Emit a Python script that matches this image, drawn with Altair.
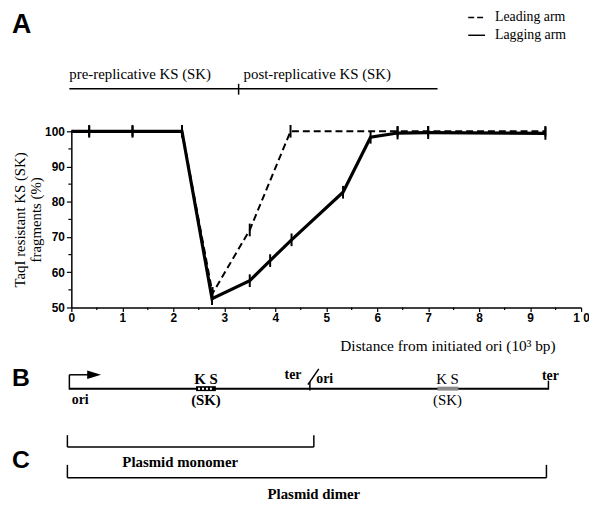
import altair as alt
import pandas as pd

# ---- data ----
lag_x = [0, 0.35, 1.2, 2.17, 2.76, 3.5, 3.9, 4.32, 5.33, 5.87, 6.4, 7.0, 9.3]
lag_y = [100, 100, 100, 100, 52.5, 57.6, 63.3, 69.2, 82.7, 98.3, 99.5, 99.6, 99.4]
lag_err = [0, 1.8, 1.8, 1.8, 1.8, 1.8, 1.8, 1.8, 1.8, 1.8, 1.8, 1.8, 1.8]
lead_x = [0, 0.35, 1.2, 2.17, 2.77, 3.5, 4.3, 6.4, 7.0, 9.3]
lead_y = [100, 100, 100, 100, 54, 72, 100, 100, 100, 100]
lead_err = [0, 1.5, 1.5, 1.5, 1.8, 1.8, 1.8, 1.5, 1.5, 1.5]
x_major = [0, 1, 2, 3, 4, 5, 6, 7, 8, 9, 10]
x_minor = [0.5, 1.5, 2.5, 3.5, 4.5, 5.5, 6.5, 7.5, 8.5, 9.5]
y_major = [50, 60, 70, 80, 90, 100]
y_minor = [55, 65, 75, 85, 95]
y_title = ["TaqI resistant KS (SK)", "fragments (%)"]
x_title = "Distance from initiated ori (10\u00b3 bp)"
legend_labels = ["Leading arm", "Lagging arm"]

# ---- layout ----
X0, Y0 = 72, 130          # page position of plot origin
W, H = 515, 178
SERIF = "Liberation Serif"
SANS = "Liberation Sans"

lag_df = pd.DataFrame({"x": lag_x, "y": lag_y, "e": lag_err})
lead_df = pd.DataFrame({"x": lead_x, "y": lead_y, "e": lead_err})
one = pd.DataFrame({"k": [0]})


def P(px):
    return px - X0


def Q(py):
    return py - Y0


x_enc = alt.X(
    "x:Q",
    scale=alt.Scale(domain=[0, 10], nice=False, zero=False),
    axis=alt.Axis(
        values=x_major,
        tickCount=30,
        labelExpr="datum.value == 10 ? '1 0' : format(datum.value, 'd')",
        tickSize=4,
        labelPadding=1,
        labelFlush=False,
        labelOverlap=False,
        title=x_title,
        titleX=452 - X0,
        titleY=346 - (Y0 + H),
        titleAlign="center",
        titleBaseline="middle",
        titleFont=SERIF,
        titleFontSize=15.5,
        titleFontWeight="normal",
    ),
)
y_enc = alt.Y(
    "y:Q",
    scale=alt.Scale(domain=[50, 100], nice=False, zero=False),
    axis=alt.Axis(
        values=y_major,
        tickCount=30,
        labelExpr="format(datum.value, 'd')",
        tickSize=5,
        labelPadding=2,
        labelOverlap=False,
        labelFlush=False,
        title=y_title,
        titleFont=SERIF,
        titleFontSize=15,
        titleFontWeight="normal",
        titleLineHeight=16,
        titlePadding=1,
    ),
)

lag_line = alt.Chart(lag_df).mark_line(color="black", strokeWidth=3.2).encode(x=x_enc, y=y_enc)
lead_line = alt.Chart(lead_df).mark_line(
    color="black", strokeWidth=2, strokeDash=[7, 4]
).encode(x="x:Q", y="y:Q")

# minor ticks through the scales
x_minor_ticks = alt.Chart(pd.DataFrame({"x": x_minor})).mark_rule(
    color="black", strokeWidth=1.2
).encode(x="x:Q", y=alt.value(H), y2=alt.value(H + 2.5))
y_minor_ticks = alt.Chart(pd.DataFrame({"y": y_minor})).mark_rule(
    color="black", strokeWidth=1.2
).encode(y="y:Q", x=alt.value(-3), x2=alt.value(0))


def errbars(df):
    return (
        alt.Chart(df)
        .transform_filter("datum.e > 0")
        .transform_calculate(lo="datum.y - datum.e", hi="datum.y + datum.e")
        .mark_rule(color="black", strokeWidth=2)
        .encode(x="x:Q", y="lo:Q", y2="hi:Q")
    )


def seg(x1, y1, x2, y2, w=1.5, dash=None, color="black"):
    kw = dict(color=color, strokeWidth=w)
    if dash:
        kw["strokeDash"] = dash
    return alt.Chart(one).mark_rule(**kw).encode(
        x=alt.value(P(x1)), x2=alt.value(P(x2)), y=alt.value(Q(y1)), y2=alt.value(Q(y2))
    )


def txt(s, px, py, size=15, weight="normal", font=SERIF, align="center", baseline="middle"):
    return alt.Chart(one).mark_text(
        text=s, fontSize=size, fontWeight=weight, font=font, align=align,
        baseline=baseline, color="black"
    ).encode(x=alt.value(P(px)), y=alt.value(Q(py)))


def box(x1, y1, x2, y2, fill):
    return alt.Chart(one).mark_rect(color=fill).encode(
        x=alt.value(P(x1)), x2=alt.value(P(x2)), y=alt.value(Q(y1)), y2=alt.value(Q(y2))
    )


annotations = [
    # panel letters
    txt("A", 12, 23, size=27, weight="bold", font=SANS, align="left"),
    txt("B", 12, 379, size=25, weight="bold", font=SANS, align="left"),
    txt("C", 12, 462, size=25, weight="bold", font=SANS, align="left"),
    # pre / post replicative
    txt("pre-replicative KS (SK)", 70, 77, align="left", baseline="alphabetic"),
    txt("post-replicative KS (SK)", 246, 77, align="left", baseline="alphabetic"),
    seg(70, 87, 442, 87),
    seg(241, 82, 241, 93),
    # legend
    seg(473, 15, 490, 15, dash=[6, 3]),
    seg(473, 33, 490, 33),
    txt(legend_labels[0], 500, 15, size=14, align="left"),
    txt(legend_labels[1], 500, 33, size=14, align="left"),
    # panel B
    seg(70, 390, 313, 390, w=2),
    seg(313, 390, 554, 390, w=2),
    seg(70, 391, 70, 376),
    seg(70, 376, 90, 376),
    alt.Chart(one).mark_point(
        shape="M -1 -0.6 L 1 0 L -1 0.6 Z", filled=True, color="black", size=196, opacity=1
    ).encode(x=alt.value(P(95)), y=alt.value(Q(376))),
    txt("ori", 81, 402, size=14, weight="bold"),
    box(198, 387.5, 218, 392.5, "black"),
    seg(200, 390, 216, 390, w=2, dash=[2, 2], color="white"),
    txt("K S", 208, 380, weight="bold"),
    txt("(SK)", 208, 402, weight="bold"),
    txt("ter", 296, 376, size=14, weight="bold"),
    seg(313, 392, 313, 383),
    seg(311, 386, 322, 370),
    txt("ori", 328, 380, size=14, weight="bold"),
    box(442, 388, 463, 392, "#8a8a8a"),
    txt("K S", 452, 380),
    txt("(SK)", 452, 402),
    seg(554, 391, 554, 382),
    txt("ter", 556, 377, size=14, weight="bold"),
    # panel C
    seg(68, 437, 68, 449),
    seg(68, 449, 317, 449),
    seg(317, 449, 317, 437),
    txt("Plasmid monomer", 182, 464, weight="bold"),
    seg(68, 467, 68, 480),
    seg(68, 480, 552, 480),
    seg(552, 480, 552, 467),
    txt("Plasmid dimer", 317, 497, weight="bold"),
]

chart = (
    alt.layer(
        lag_line, lead_line, errbars(lag_df), errbars(lead_df),
        x_minor_ticks, y_minor_ticks, *annotations
    )
    .properties(
        width=W,
        height=H,
        autosize=alt.AutoSizeParams(type="none"),
        padding={"left": X0 - 8, "top": Y0 - 8, "right": 8, "bottom": 505 - 8 - (Y0 - 8) - H},
        background="white",
    )
    .configure_view(stroke=None)
    .configure_axis(
        grid=False,
        domainColor="black",
        domainWidth=1.5,
        tickColor="black",
        tickWidth=1.2,
        labelColor="black",
        labelFont=SANS,
        labelFontWeight="bold",
        labelFontSize=12,
        labelOverlap=False,
        titleColor="black",
    )
)

chart.save("out.html", embed_options={"renderer": "svg", "actions": False})
